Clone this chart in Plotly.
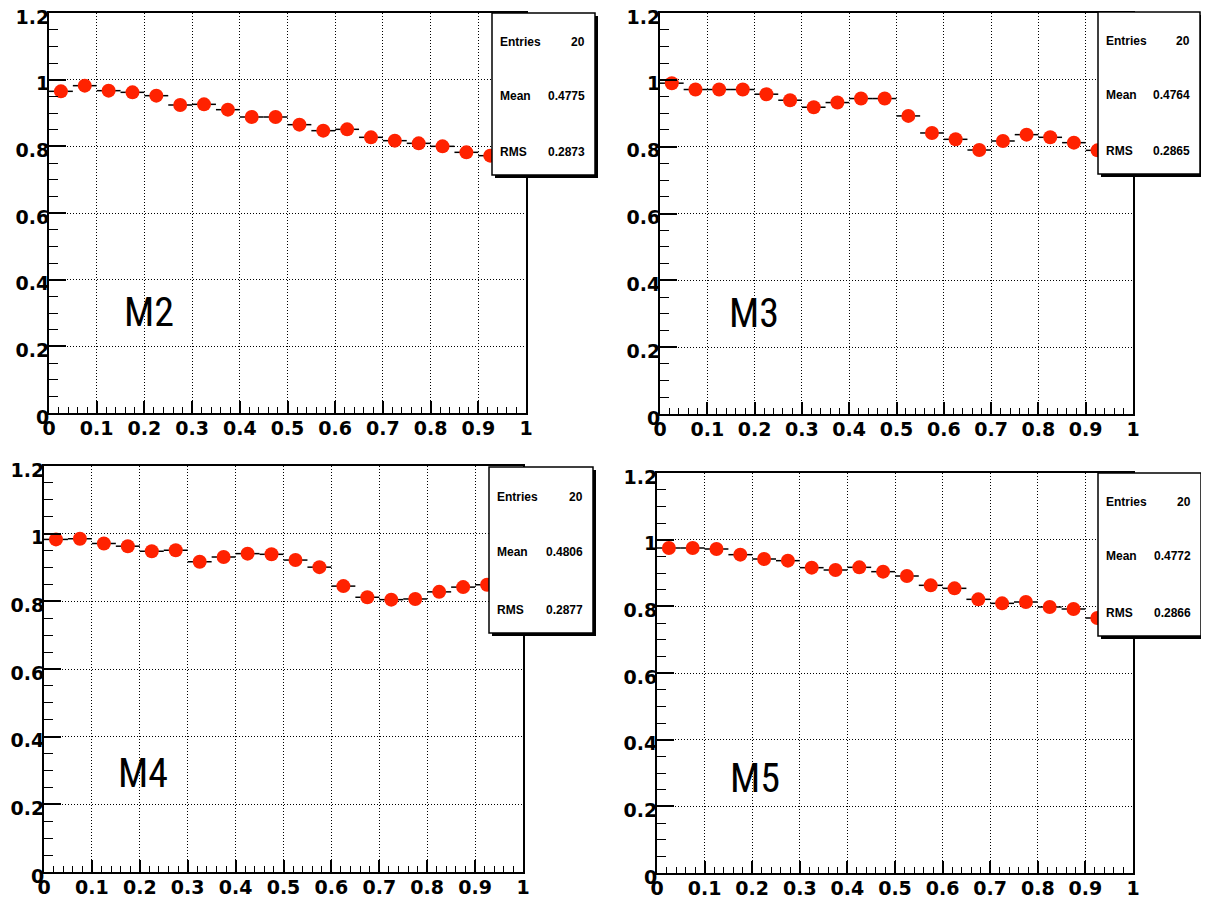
import plotly.graph_objects as go

# page body adds an 8px margin, so the figure is slightly smaller and offset
OFF = 8
W, H = 1209 - OFF, 901 - OFF

# ---- data ----
bin_centers = [0.025, 0.075, 0.125, 0.175, 0.225, 0.275, 0.325, 0.375, 0.425, 0.475,
               0.525, 0.575, 0.625, 0.675, 0.725, 0.775, 0.825, 0.875, 0.925, 0.975]
bin_half_width = [0.025] * 20

m2_values = [0.965, 0.982, 0.967, 0.962, 0.952, 0.924, 0.926, 0.910, 0.888, 0.888,
             0.865, 0.847, 0.851, 0.827, 0.817, 0.809, 0.800, 0.782, 0.772, 0.770]
m3_values = [0.990, 0.971, 0.971, 0.971, 0.957, 0.939, 0.918, 0.932, 0.944, 0.944,
             0.892, 0.841, 0.822, 0.790, 0.817, 0.836, 0.828, 0.812, 0.789, 0.750]
m4_values = [0.983, 0.985, 0.971, 0.963, 0.948, 0.951, 0.917, 0.931, 0.941, 0.939,
             0.922, 0.901, 0.845, 0.812, 0.805, 0.807, 0.828, 0.842, 0.849, 0.870]
m5_values = [0.975, 0.975, 0.972, 0.955, 0.942, 0.937, 0.916, 0.909, 0.917, 0.904,
             0.891, 0.863, 0.854, 0.821, 0.809, 0.813, 0.798, 0.792, 0.765, 0.760]

panel_names = ["M2", "M3", "M4", "M5"]
panel_values = [m2_values, m3_values, m4_values, m5_values]
stat_entries = ["20", "20", "20", "20"]
stat_mean = ["0.4775", "0.4764", "0.4806", "0.4772"]
stat_rms = ["0.2873", "0.2865", "0.2877", "0.2866"]

x_tickvals = [0, 0.1, 0.2, 0.3, 0.4, 0.5, 0.6, 0.7, 0.8, 0.9, 1]
y_tickvals = [0, 0.2, 0.4, 0.6, 0.8, 1.0, 1.2]

# ---- layout geometry (window pixels) ----
plot_px = [  # x0, x1, ytop, ybottom
    (49, 526, 13, 413),
    (660, 1133, 13, 414),
    (44, 523, 466, 872),
    (657, 1133, 473, 873),
]
box_px = [  # x0, x1, ytop, ybottom
    (492, 595, 13, 175),
    (1098, 1200, 12, 174),
    (489, 593, 467, 633),
    (1098, 1201, 473, 636),
]
label_px = [(149, 312), (754, 313), (143, 773), (755, 778)]


def px(x):
    return (x - OFF) / W


def py(y):
    return 1 - (y - OFF) / H


fig = go.Figure()
shapes = []
annotations = []
tick_font = dict(family="DejaVu Sans, sans-serif", size=19, color="black", weight="bold")
grid_dash = "1px,2px"

for i in range(4):
    ax = "" if i == 0 else str(i + 1)
    x0, x1, yt, yb = plot_px[i]
    fig.add_trace(go.Scatter(
        x=bin_centers, y=panel_values[i], mode="markers",
        xaxis="x" + ax, yaxis="y" + ax,
        marker=dict(symbol="circle", size=14, color="rgb(255,34,0)"),
        error_x=dict(type="data", array=bin_half_width, width=0, thickness=1.5, color="black"),
        showlegend=False, hoverinfo="x+y",
    ))
    fig.layout["xaxis" + ax] = dict(
        domain=[px(x0), px(x1)], anchor="y" + ax, range=[0, 1], automargin=False,
        tickvals=x_tickvals, ticks="inside", ticklen=12, tickwidth=1.5, tickcolor="black",
        ticklabelstandoff=-3, ticklabeloverflow="allow",
        minor=dict(dtick=0.02, tick0=0, ticks="inside", ticklen=6, tickwidth=1.2, tickcolor="black", showgrid=False),
        showline=True, linewidth=2, linecolor="black", mirror=True,
        showgrid=True, gridcolor="black", griddash=grid_dash, gridwidth=1,
        zeroline=False, tickfont=tick_font, fixedrange=True,
    )
    fig.layout["yaxis" + ax] = dict(
        domain=[py(yb), py(yt)], anchor="x" + ax, range=[0, 1.2], automargin=False,
        tickvals=y_tickvals, ticks="inside", ticklen=17, tickwidth=1.5, tickcolor="black",
        ticklabelstandoff=-6, ticklabelshift=4, ticklabeloverflow="allow",
        minor=dict(dtick=0.05, tick0=0, ticks="inside", ticklen=9, tickwidth=1.2, tickcolor="black", showgrid=False),
        showline=True, linewidth=2, linecolor="black", mirror=True,
        showgrid=True, gridcolor="black", griddash=grid_dash, gridwidth=1,
        zeroline=False, tickfont=tick_font, fixedrange=True,
    )

    # stat box with shadow
    bx0, bx1, byt, byb = box_px[i]
    shapes.append(dict(type="rect", xref="paper", yref="paper", layer="above",
                       x0=px(bx0 + 3), x1=px(bx1 + 3), y0=py(byb + 3), y1=py(byt + 3),
                       fillcolor="black", line=dict(width=0)))
    shapes.append(dict(type="rect", xref="paper", yref="paper", layer="above",
                       x0=px(bx0), x1=px(bx1), y0=py(byb), y1=py(byt),
                       fillcolor="white", line=dict(color="black", width=1.5)))
    bh = byb - byt
    stat_font = dict(family="Liberation Sans, Arial, sans-serif", size=12, color="black", weight="bold")
    for frac, name, val in [(0.18, "Entries", stat_entries[i]),
                            (0.51, "Mean", stat_mean[i]),
                            (0.86, "RMS", stat_rms[i])]:
        yy = byt + frac * bh
        annotations.append(dict(xref="paper", yref="paper", x=px(bx0 + 6), y=py(yy),
                                text=name, showarrow=False, xanchor="left", yanchor="middle",
                                font=stat_font))
        annotations.append(dict(xref="paper", yref="paper", x=px(bx1 - 8), y=py(yy),
                                text=val, showarrow=False, xanchor="right", yanchor="middle",
                                font=stat_font))

    lx, ly = label_px[i]
    annotations.append(dict(xref="paper", yref="paper", x=px(lx), y=py(ly),
                            text=panel_names[i], showarrow=False, xanchor="center", yanchor="middle",
                            font=dict(family="Liberation Sans Narrow, Arial Narrow, Roboto Condensed, sans-serif",
                                      size=40, color="black")))

fig.update_layout(
    width=W, height=H, margin=dict(l=0, r=0, t=0, b=0, autoexpand=False),
    paper_bgcolor="white", plot_bgcolor="white",
    shapes=shapes, annotations=annotations, showlegend=False,
)

fig.write_html("out.html")
